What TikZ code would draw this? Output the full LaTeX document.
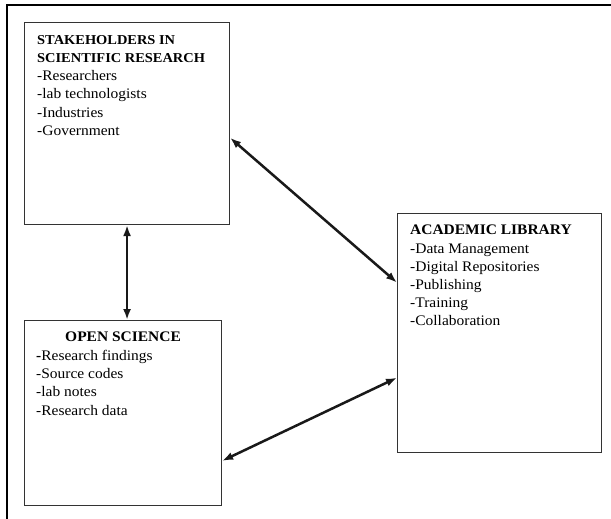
\documentclass[tikz,border=0pt]{standalone}
\usepackage{fontspec}
\setmainfont{Liberation Serif}[FakeStretch=1.06]
\usetikzlibrary{calc,arrows.meta}

\newcommand{\smallhead}[1]{{\bfseries\fontsize{13.6}{18.2}\selectfont #1}}

\tikzset{
  boxnode/.style={draw=black!80, line width=1.1pt, rectangle, inner sep=0pt},
  listtext/.style={align=left, inner sep=0pt, font=\fontsize{14.6}{18.2}\selectfont},
  headtext/.style={inner sep=0pt, font=\bfseries\fontsize{14.6}{18.2}\selectfont},
  link/.style={{Latex[length=11pt,width=8pt]}-{Latex[length=11pt,width=8pt]}, line width=2.5pt, black!90}
}

\begin{document}
\begin{tikzpicture}[x=1pt, y=-1pt]
            \useasboundingbox (0, 0) rectangle (611, 519);
            % frame
            \draw [line width=1.8pt] (611, 5) -- (7, 5) -- (7, 519);
            % boxes
            \node [boxnode, minimum width=205pt, minimum height=202pt, anchor=north west] (stake) at (24, 22) {};
            \node [boxnode, minimum width=197pt, minimum height=185pt, anchor=north west] (open) at (24, 320) {};
            \node [boxnode, minimum width=204pt, minimum height=239pt, anchor=north west] (library) at (397, 213) {};
            % texts
            \node [listtext, anchor=north west] (staketext) at ($(stake.north west) + (13, 13)$)
              {\smallhead{STAKEHOLDERS IN}\\\smallhead{SCIENTIFIC RESEARCH}\\-Researchers\\-lab technologists\\-Industries\\-Government};
            \node [headtext, anchor=north] (openhead) at ($(open.north) + (0, 12)$) {OPEN SCIENCE};
            \node [listtext, anchor=north west] (opentext) at ($(open.north west) + (12, 30)$)
              {\textbf{-}Research findings\\-Source codes\\-lab notes\\-Research data};
            \node [listtext, anchor=north west] (librarytext) at ($(library.north west) + (13, 12)$)
              {\textbf{ACADEMIC LIBRARY}\\-Data Management\\-Digital Repositories\\-Publishing\\-Training\\-Collaboration};
            % arrows
            \coordinate (s1) at ($(stake.north east)!0.57!(stake.south east)$);
            \coordinate (l1) at ($(library.north west)!0.29!(library.south west)$);
            \coordinate (o1) at ($(open.north east)!0.757!(open.south east)$);
            \coordinate (l2) at ($(library.north west)!0.686!(library.south west)$);
            \draw [link] (stake.south) -- (stake.south |- open.north);
            \draw [link] (s1) -- (l1);
            \draw [link] (o1) -- (l2);
\end{tikzpicture}
\end{document}
